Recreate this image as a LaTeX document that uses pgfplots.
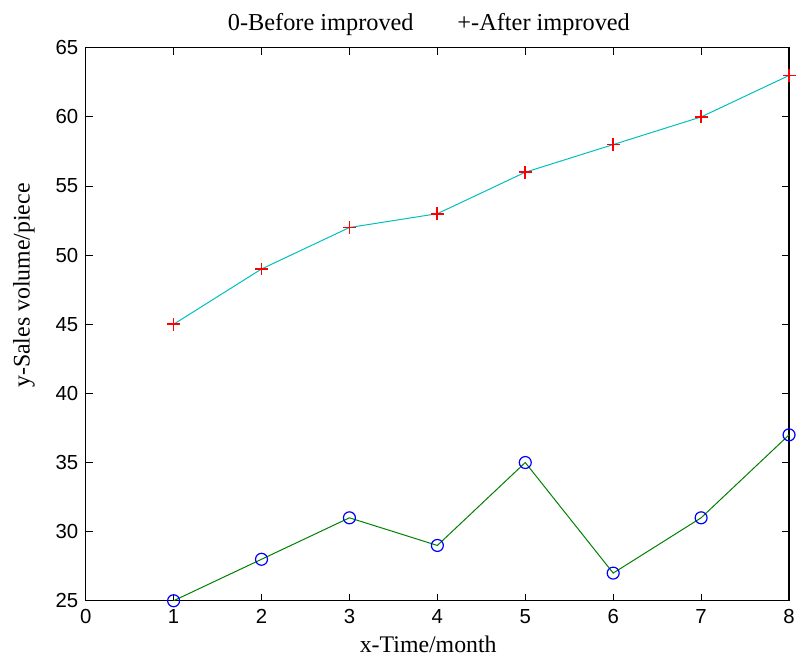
\documentclass[border=0pt]{standalone}
\usepackage{pgfplots}
\pgfplotsset{compat=1.18}
\usepackage{fontspec}
\setmainfont{Liberation Serif}
\setsansfont{Liberation Sans}
\definecolor{mcyan}{rgb}{0,0.75,0.75}
\definecolor{mgreen}{rgb}{0,0.5,0}
\pgfplotstableread{
x before after
1 25 45
2 28 49
3 31 52
4 29 53
5 35 56
6 27 58
7 31 60
8 37 63
}\sales
\begin{document}
\begin{tikzpicture}
\begin{axis}[
    scale only axis,
    width=706bp,
    height=555bp,
    xmin=0, xmax=8,
    ymin=25, ymax=65,
    xtick={0,1,...,8},
    ytick={25,30,...,65},
    tick align=inside,
    major tick length=7bp,
    axis line style={line width=1.2bp},
    every tick/.style={black, line width=1bp},
    /pgf/number format/assume math mode=true,
    tick label style={font=\sffamily\fontsize{20.5}{24}\selectfont},
    xticklabel style={yshift=-5bp},
    yticklabel style={xshift=-4bp},
    title={0-Before improved\hspace{44bp}+-After improved},
    title style={font=\fontsize{24.5}{28}\selectfont, at={(0.488,1)}, yshift=3bp},
    xlabel={x-Time/month},
    ylabel={y-Sales volume/piece},
    label style={font=\fontsize{24}{28}\selectfont},
    xlabel style={at={(ticklabel cs:0.487)}, yshift=-6bp},
    ylabel style={at={(ticklabel cs:0.57)}, yshift=14bp},
    clip=false,
]
% lines
\addplot[mcyan, line width=1bp, no marks] table[x=x, y=after] {\sales};
\addplot[mgreen, line width=1bp, no marks] table[x=x, y=before] {\sales};
% markers
\addplot[red, only marks, mark=+, mark size=6.5bp,
    mark options={line width=1.8bp}] table[x=x, y=after] {\sales};
\addplot[blue, only marks, mark=o, mark size=6bp,
    mark options={line width=1.2bp}] table[x=x, y=before] {\sales};
% page margins as in the reference
\path (rel axis cs:0,0) ++(-86bp,-58bp);
\path (rel axis cs:1,1) ++(8bp,48bp);
\end{axis}
\end{tikzpicture}
\end{document}
